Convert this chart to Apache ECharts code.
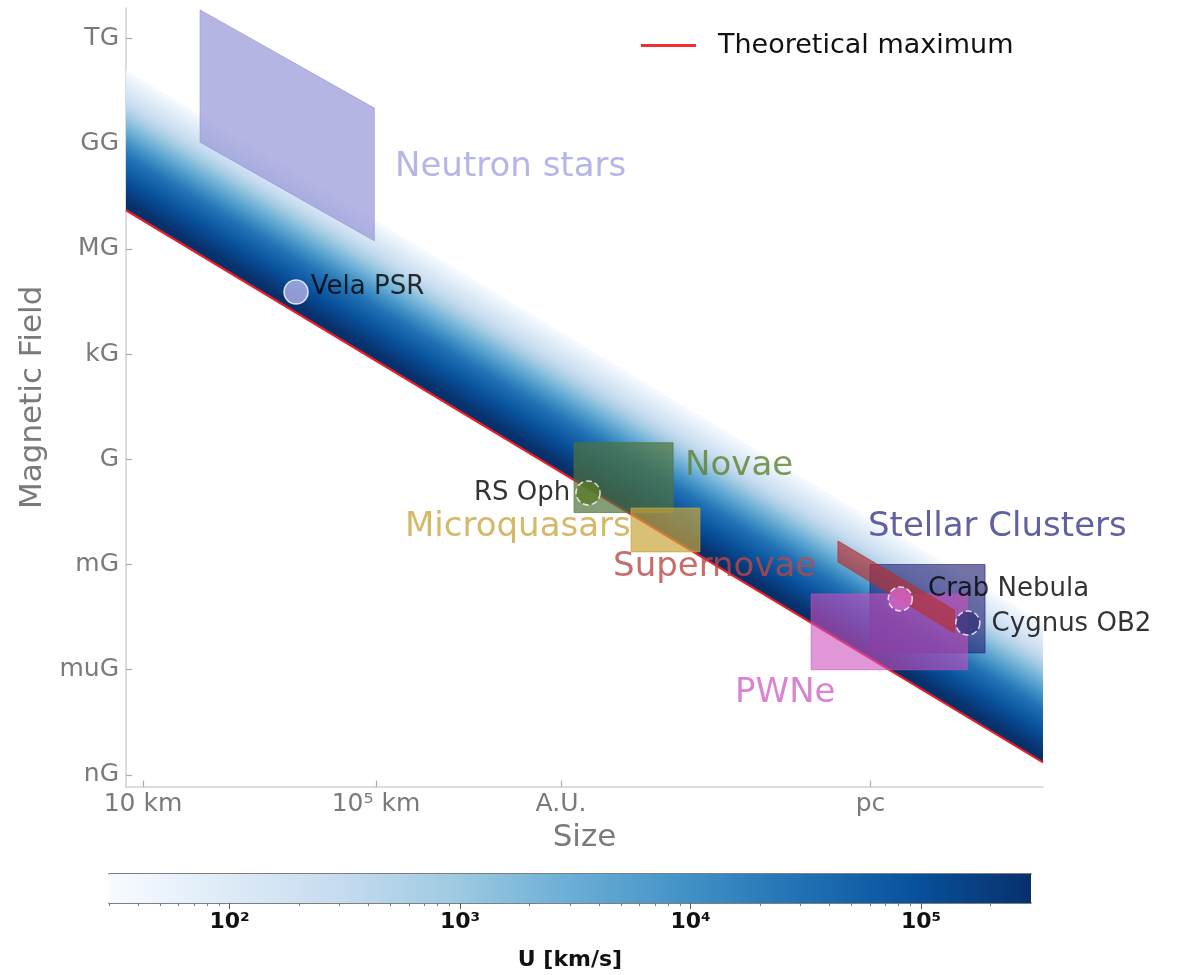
<!DOCTYPE html>
<html>
<head>
<meta charset="utf-8">
<script src="https://cdn.jsdelivr.net/npm/echarts@6/dist/echarts.min.js"></script>
<style>
html,body{margin:0;padding:0;background:#fff;}
#chart{width:1185px;height:975px;}
</style>
</head>
<body>
<div id="chart"></div>
<script>
// ---------------- DATA (x = log10(size / km), y = log10(B / Gauss)) ----------------
const xRange = [0.708, 16.45];
const yRange = [-9.334, 12.864];
const xTickValues = [1, 5, 8.175, 13.489];
const xTickLabels = ['10 km', '10\u2075 km', 'A.U.', 'pc'];
const yTickValues = [-9, -6, -3, 0, 3, 6, 9, 12];
const yTickLabels = ['nG', 'muG', 'mG', 'G', 'kG', 'MG', 'GG', 'TG'];

// theoretical maximum line (U = c)
const theoreticalMaxX = [0.708, 16.45];
const theoreticalMaxY = [7.10, -8.64];

// velocity range of colour scale, log10(U / km/s)
const uLogRange = [1.477, 5.477];
const cbTickValues = [2, 3, 4, 5];
const cbTickLabels = ['10\u00b2', '10\u00b3', '10\u2074', '10\u2075'];

// source classes (polygon vertices)
const regionNames = ['Neutron stars', 'Novae', 'Microquasars', 'Supernovae', 'Stellar Clusters', 'PWNe'];
const neutronStars = [[1.98, 12.81], [4.97, 10.01], [4.97, 6.23], [1.98, 9.04]];
const novae = [[8.40, 0.47], [10.10, 0.47], [10.10, -1.52], [8.40, -1.52]];
const microquasars = [[9.378, -1.39], [10.56, -1.39], [10.56, -2.64], [9.378, -2.64]];
const supernovae = [[12.93, -2.33], [14.93, -4.30], [14.93, -4.95], [12.93, -2.93]];
const stellarClusters = [[13.48, -3.0], [15.455, -3.0], [15.455, -5.52], [13.48, -5.52]];
const pwne = [[12.47, -3.84], [15.15, -3.84], [15.15, -6.0], [12.47, -6.0]];
const regionLabelX = [5.326, 10.305, 5.498, 9.069, 13.446, 11.163];
const regionLabelY = [8.33, -0.19, -1.93, -3.07, -1.93, -6.66];

// individual sources
const pointNames = ['Vela PSR', 'RS Oph', 'Crab Nebula', 'Cygnus OB2'];
const pointX = [3.627, 8.64, 14.0, 15.16];
const pointY = [4.77, -0.96, -3.98, -4.67];

// ---------------- STYLE ----------------
const regionPolys = [neutronStars, novae, microquasars, supernovae, stellarClusters, pwne];
const drawOrder = [0, 1, 2, 4, 5, 3];
const regionFill = ['rgba(150,150,215,0.7)', 'rgba(80,115,60,0.7)', 'rgba(200,165,60,0.7)',
                    'rgba(178,50,55,0.7)', 'rgba(40,40,120,0.65)', 'rgba(205,80,190,0.6)'];
const regionText = ['#a3a3e2', '#5f7f30', '#c9a843', '#b94848', '#3a3a88', '#d264c8'];
const pointColor = ['#b3b3e8', '#5a7a2a', '#d565c6', '#36367c'];
const blues = ['#f7fbff', '#deebf7', '#c6dbef', '#9ecae1', '#6baed6', '#4292c6', '#2171b5', '#08519c', '#08306b'];
// band shading: position across the band (0 = top, 1 = theoretical maximum line) -> colour
const bandStops = [
  { offset: 0.0, color: '#f7fbff' }, { offset: 0.12, color: '#deebf7' }, { offset: 0.24, color: '#c6dbef' },
  { offset: 0.33, color: '#9ecae1' }, { offset: 0.43, color: '#6baed6' }, { offset: 0.52, color: '#4292c6' },
  { offset: 0.62, color: '#2171b5' }, { offset: 0.78, color: '#08519c' }, { offset: 0.95, color: '#08306b' },
  { offset: 1.0, color: '#08306b' }
];
const FONT = 'DejaVu Sans';
const GRAY = '#7a7a7a';

function nearestLabel(v, vals, labels) {
  let best = 0;
  for (let i = 1; i < vals.length; i++) if (Math.abs(vals[i] - v) < Math.abs(vals[best] - v)) best = i;
  return labels[best];
}

const minorTicks = [];
for (let n = 1; n <= 5; n++) for (let k = 2; k <= 9; k++) {
  const v = n + Math.log10(k);
  if (v > uLogRange[0] && v < uLogRange[1]) minorTicks.push(v);
}

const chart = echarts.init(document.getElementById('chart'));

const option = {
  animation: false,
  textStyle: { fontFamily: FONT },
  legend: {
    data: [{ name: 'Theoretical maximum', icon: 'rect', itemStyle: { color: '#f03030' } }],
    left: 636, top: 27,
    itemWidth: 55, itemHeight: 3,
    textStyle: { fontSize: 27, color: '#111', fontFamily: FONT, padding: [0, 0, 0, 17] }
  },
  grid: [
    { left: 126, right: 142, top: 8, height: 778.7, containLabel: false },
    { left: 109, right: 154, top: 874, height: 29, containLabel: false }
  ],
  xAxis: [
    {
      type: 'value', gridIndex: 0, min: xRange[0], max: xRange[1],
      name: 'Size', nameLocation: 'middle', nameGap: 36,
      nameTextStyle: { fontSize: 31, color: GRAY, fontFamily: FONT },
      splitLine: { show: false },
      axisLine: { onZero: false, lineStyle: { color: '#d0d0d0', width: 1.5 } },
      axisTick: { show: true, inside: true, length: 6, customValues: xTickValues, lineStyle: { color: '#aaa', width: 1.2 } },
      axisLabel: { customValues: xTickValues, formatter: v => nearestLabel(v, xTickValues, xTickLabels),
                   fontSize: 25, color: GRAY, margin: 5 }
    },
    {
      type: 'value', gridIndex: 1, min: uLogRange[0], max: uLogRange[1], position: 'bottom',
      name: 'U [km/s]', nameLocation: 'middle', nameGap: 46,
      nameTextStyle: { fontSize: 22, color: '#111', fontWeight: 'bold', fontFamily: FONT },
      splitLine: { show: false },
      axisLine: { onZero: false, lineStyle: { color: '#555', width: 1.5 } },
      axisTick: { show: true, inside: false, length: 6, customValues: cbTickValues, lineStyle: { color: '#555', width: 1 } },
      axisLabel: { customValues: cbTickValues, formatter: v => nearestLabel(v, cbTickValues, cbTickLabels),
                   fontSize: 22, color: '#111', fontWeight: 'bold', margin: 8 }
    },
    {
      type: 'value', gridIndex: 1, min: uLogRange[0], max: uLogRange[1], position: 'bottom',
      splitLine: { show: false },
      axisLine: { show: false, onZero: false },
      axisTick: { show: true, inside: false, length: 3, customValues: minorTicks, lineStyle: { color: '#777', width: 1 } },
      axisLabel: { show: false }
    },
    {
      type: 'value', gridIndex: 1, min: uLogRange[0], max: uLogRange[1], position: 'top',
      splitLine: { show: false },
      axisLine: { show: true, onZero: false, lineStyle: { color: '#555', width: 1.5 } },
      axisTick: { show: false }, axisLabel: { show: false }
    }
  ],
  yAxis: [
    {
      type: 'value', gridIndex: 0, min: yRange[0], max: yRange[1],
      name: 'Magnetic Field', nameLocation: 'middle', nameGap: 78,
      nameTextStyle: { fontSize: 31, color: GRAY, fontFamily: FONT },
      splitLine: { show: false },
      axisLine: { show: true, onZero: false, lineStyle: { color: '#d0d0d0', width: 1.5 } },
      axisTick: { show: true, inside: true, length: 6, customValues: yTickValues, lineStyle: { color: '#aaa', width: 1.2 } },
      axisLabel: { customValues: yTickValues, formatter: v => nearestLabel(v, yTickValues, yTickLabels),
                   fontSize: 25, color: GRAY, margin: 7 }
    },
    {
      type: 'value', gridIndex: 1, min: 0, max: 1, show: false
    }
  ],
  series: [
    {
      // colour band between U = c and U = 30 km/s
      type: 'custom', name: 'band', xAxisIndex: 0, yAxisIndex: 0, z: 1, clip: true, silent: true,
      data: [[theoreticalMaxX[0], theoreticalMaxY[0]]],
      renderItem: function (params, api) {
        const span = uLogRange[1] - uLogRange[0];
        const pL = api.coord([theoreticalMaxX[0], theoreticalMaxY[0]]);
        const pR = api.coord([theoreticalMaxX[1], theoreticalMaxY[1]]);
        const tR = api.coord([theoreticalMaxX[1], theoreticalMaxY[1] + span]);
        const tL = api.coord([theoreticalMaxX[0], theoreticalMaxY[0] + span]);
        let dx = pR[0] - pL[0], dy = pR[1] - pL[1];
        const len = Math.hypot(dx, dy); dx /= len; dy /= len;
        const vx = tL[0] - pL[0], vy = tL[1] - pL[1];
        const dot = vx * dx + vy * dy;
        const px = vx - dot * dx, py = vy - dot * dy;
        // gradient from band top (offset 0) to the theoretical maximum line (offset 1)
        return {
          type: 'polygon',
          shape: { points: [pL, pR, tR, tL] },
          style: {
            fill: { type: 'linear', global: true, x: pL[0] + px, y: pL[1] + py, x2: pL[0], y2: pL[1], colorStops: bandStops },
            stroke: null
          }
        };
      }
    },
    {
      type: 'line', name: 'Theoretical maximum', xAxisIndex: 0, yAxisIndex: 0, z: 2,
      data: theoreticalMaxX.map((x, i) => [x, theoreticalMaxY[i]]),
      symbol: 'none', lineStyle: { color: '#ee1c25', width: 2.2 }, itemStyle: { color: '#f03030' },
      silent: true
    },
    {
      type: 'custom', name: 'regions', xAxisIndex: 0, yAxisIndex: 0, z: 3, clip: true, silent: true,
      data: drawOrder.map(k => [regionPolys[k][0][0], regionPolys[k][0][1]]),
      renderItem: function (params, api) {
        const k = drawOrder[params.dataIndex];
        const pts = regionPolys[k].map(v => api.coord(v));
        return {
          type: 'polygon',
          shape: { points: pts },
          style: { fill: regionFill[k], stroke: regionFill[k], lineWidth: 1 }
        };
      }
    },
    {
      type: 'scatter', name: 'regionLabels', xAxisIndex: 0, yAxisIndex: 0, z: 4, silent: true,
      symbolSize: 0,
      data: regionNames.map((n, i) => ({
        name: n, value: [regionLabelX[i], regionLabelY[i]],
        label: { color: regionText[i] }
      })),
      label: {
        show: true, position: 'right', distance: 0, formatter: '{b}',
        fontSize: 34, fontFamily: FONT, align: 'left', verticalAlign: 'middle'
      }
    },
    {
      type: 'scatter', name: 'sources', xAxisIndex: 0, yAxisIndex: 0, z: 5, silent: true,
      symbol: 'circle', symbolSize: 24,
      data: pointNames.map((n, i) => {
        const labelPos = [
          { position: 'right', distance: 2, offset: [0, -5] },
          { position: 'left', distance: 5, offset: [0, 0] },
          { position: 'right', distance: 15, offset: [0, -10] },
          { position: 'right', distance: 11, offset: [0, 1] }
        ][i];
        return {
          name: n, value: [pointX[i], pointY[i]],
          itemStyle: { color: pointColor[i], borderColor: '#ffffff', borderWidth: 1.5,
                       borderType: i === 0 ? 'solid' : 'dashed' },
          label: Object.assign({ show: true, formatter: '{b}', fontSize: 26, color: '#000', fontFamily: FONT }, labelPos)
        };
      })
    },
    {
      // colour bar
      type: 'custom', name: 'colorbar', xAxisIndex: 1, yAxisIndex: 1, z: 1, silent: true,
      data: [[uLogRange[0], 0]],
      renderItem: function (params, api) {
        const p0 = api.coord([uLogRange[0], 0]);
        const p1 = api.coord([uLogRange[1], 1]);
        const stops = blues.map((c, i) => ({ offset: i / (blues.length - 1), color: c }));
        return {
          type: 'rect',
          shape: { x: p0[0], y: p1[1], width: p1[0] - p0[0], height: p0[1] - p1[1] },
          style: { fill: { type: 'linear', x: 0, y: 0, x2: 1, y2: 0, colorStops: stops } }
        };
      }
    }
  ]
};
chart.setOption(option);
</script>
</body>
</html>
